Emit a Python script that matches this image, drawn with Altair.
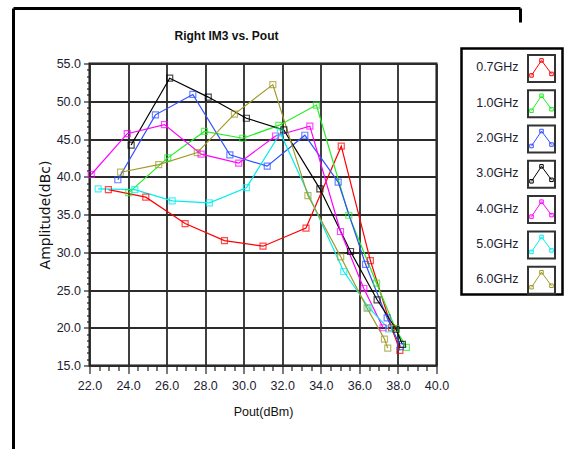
import altair as alt
import pandas as pd

series = ["0.7GHz", "1.0GHz", "2.0GHz", "3.0GHz", "4.0GHz", "5.0GHz", "6.0GHz"]
colors = ["#FF0000", "#22EE22", "#3050FF", "#000000", "#FF00FF", "#00EEEE", "#A09A28"]

pout_07 = [22.98, 24.92, 26.96, 29.0, 31.0, 33.23, 35.06, 36.57, 37.67, 38.1]
amp_07 = [38.3, 37.3, 33.8, 31.55, 30.8, 33.2, 44.05, 28.9, 20.0, 17.0]

pout_10 = [24.04, 26.06, 27.96, 29.95, 31.82, 33.77, 35.45, 36.89, 37.87, 38.44]
amp_10 = [37.9, 42.5, 46.0, 45.1, 46.8, 49.5, 34.9, 25.9, 19.9, 17.4]

pout_20 = [23.47, 25.42, 27.36, 29.28, 31.22, 33.17, 34.9, 36.32, 37.44, 38.13]
amp_20 = [39.6, 48.2, 50.9, 42.9, 41.4, 45.5, 39.3, 28.4, 21.3, 17.5]

pout_30 = [24.16, 26.16, 28.16, 30.14, 32.08, 33.95, 35.54, 36.92, 37.9, 38.23]
amp_30 = [44.2, 53.05, 50.55, 47.75, 46.2, 38.4, 30.1, 23.7, 19.8, 17.8]

pout_40 = [22.09, 23.96, 25.89, 27.79, 29.74, 31.65, 33.43, 35.02, 36.23, 37.23]
amp_40 = [40.3, 45.7, 46.9, 43.0, 41.8, 45.4, 46.7, 32.75, 25.2, 20.0]

pout_50 = [22.45, 24.35, 26.29, 28.22, 30.14, 31.9, 35.19, 36.49, 37.52]
amp_50 = [38.4, 38.3, 36.8, 36.55, 38.55, 45.8, 27.45, 22.65, 19.85]

pout_60 = [23.61, 25.59, 27.59, 29.52, 31.51, 33.33, 35.03, 36.4, 37.3, 37.47]
amp_60 = [40.6, 41.6, 43.2, 48.3, 52.2, 37.5, 29.4, 22.6, 18.5, 17.3]

all_pout = [pout_07, pout_10, pout_20, pout_30, pout_40, pout_50, pout_60]
all_amp = [amp_07, amp_10, amp_20, amp_30, amp_40, amp_50, amp_60]

rows = []
for s, xs, ys in zip(series, all_pout, all_amp):
    for i, (xv, yv) in enumerate(zip(xs, ys)):
        rows.append({"series": s, "pout": xv, "amp": yv, "idx": i})
df = pd.DataFrame(rows)

x_ticks = [22 + 0.5 * i for i in range(37)]
y_ticks = [round(15 + i * 5 / 6, 4) for i in range(49)]
x_major = "abs(datum.value % 2) < 0.001"
y_major = "abs(datum.value / 5 - round(datum.value / 5)) < 0.001"

FONT = "Liberation Sans"
LBL = "#1c1c30"

color_scale = alt.Scale(domain=series, range=colors)

x_enc = alt.X(
    "pout:Q",
    scale=alt.Scale(domain=[22, 40], nice=False, zero=False),
    axis=alt.Axis(
        values=x_ticks,
        labelExpr=f"{x_major} ? format(datum.value, '.1f') : ''",
        grid=True,
        gridOpacity={"condition": {"test": x_major, "value": 1}, "value": 0},
        gridColor="#2b2b2b",
        gridWidth=1.8,
        tickSize={"condition": {"test": x_major, "value": 8}, "value": 5},
        tickColor="#222222",
        tickWidth=1.2,
        domain=False,
        labelFont=FONT,
        labelFontSize=12.5,
        labelColor=LBL,
        labelPadding=6,
        labelOverlap=False,
        labelFlush=False,
        title="Pout(dBm)",
        titleFont=FONT,
        titleFontSize=12.5,
        titleFontWeight="normal",
        titleColor="#111111",
        titlePadding=13,
    ),
)

y_enc = alt.Y(
    "amp:Q",
    scale=alt.Scale(domain=[15, 55], nice=False, zero=False),
    axis=alt.Axis(
        values=y_ticks,
        labelExpr=f"{y_major} ? format(datum.value, '.1f') : ''",
        grid=True,
        gridOpacity={"condition": {"test": y_major, "value": 1}, "value": 0},
        gridColor="#2b2b2b",
        gridWidth=1.8,
        tickSize={"condition": {"test": y_major, "value": 6}, "value": 3},
        tickColor="#222222",
        tickWidth=1.2,
        domain=False,
        labelFont=FONT,
        labelFontSize=12.5,
        labelColor=LBL,
        labelPadding=3,
        labelOverlap=False,
        labelFlush=False,
        title="Amplitude(dBc)",
        titleFont="DejaVu Sans",
        titleFontSize=14,
        titleFontWeight="normal",
        titleColor="#111111",
        titlePadding=4,
    ),
)

base = alt.Chart(df).encode(
    x=x_enc,
    y=y_enc,
    color=alt.Color("series:N", scale=color_scale, legend=None),
    detail="series:N",
    order="idx:Q",
)

lines = base.mark_line(strokeWidth=1.2)
points = base.mark_point(shape="square", filled=False, size=36, strokeWidth=1.2)

plot_layer = alt.layer(lines, points)

# ---- decorations: outer frame and title (positions relative to plot's top-left) ----
one = pd.DataFrame({"k": [0]})
frame_left = alt.Chart(one).mark_rule(color="#000000", strokeWidth=3, clip=False).encode(
    x=alt.value(-76), y=alt.value(-55), y2=alt.value(386)
)
frame_top = alt.Chart(one).mark_rule(color="#000000", strokeWidth=3, clip=False).encode(
    x=alt.value(-76), x2=alt.value(431), y=alt.value(-55)
)
frame_corner = alt.Chart(one).mark_rule(color="#000000", strokeWidth=3, clip=False).encode(
    x=alt.value(431), y=alt.value(-55), y2=alt.value(-41)
)
title_txt = alt.Chart(one).mark_text(
    text="Right IM3 vs. Pout",
    font=FONT,
    fontSize=12,
    fontWeight="bold",
    color="#111111",
    align="center",
    baseline="alphabetic",
).encode(x=alt.value(137), y=alt.value(-24))

# ---- legend ----
leg_df = pd.DataFrame({"series": series})
icon_path = (
    "M-0.74,0.52L0,-0.59L0.74,0.41 "
    "M-0.87,0.39h0.26v0.26h-0.26z "
    "M-0.13,-0.72h0.26v0.26h-0.26z "
    "M0.61,0.28h0.26v0.26h-0.26z"
)
leg_y = alt.Y(
    "series:N",
    scale=alt.Scale(type="point", domain=series, range=[4.9, 216.7], padding=0),
    axis=None,
)
box = alt.Chart(one).mark_rect(fill="white", stroke="#000000", strokeWidth=2.5, clip=False).encode(
    x=alt.value(372), x2=alt.value(473), y=alt.value(-15), y2=alt.value(231)
)
labels = alt.Chart(leg_df).mark_text(
    align="left", baseline="middle", font=FONT, fontSize=12.5, color=LBL, dy=-1
).encode(x=alt.value(386.7), y=leg_y, text="series:N")
swatch = alt.Chart(leg_df).mark_point(
    shape="square", filled=False, size=729, stroke="#333333", strokeWidth=2, opacity=1
).encode(x=alt.value(452), y=leg_y)
icons = alt.Chart(leg_df).mark_point(
    shape=icon_path, filled=False, size=729, strokeWidth=1, opacity=1
).encode(
    x=alt.value(452),
    y=leg_y,
    color=alt.Color("series:N", scale=color_scale, legend=None),
)
legend_layer = alt.layer(box, labels, swatch, icons)

chart = (
    alt.layer(plot_layer, frame_left, frame_top, frame_corner, title_txt, legend_layer)
    .resolve_scale(y="independent")
    .properties(
        width=347,
        height=302,
        padding={"left": 11.5, "top": 6.5, "right": 0, "bottom": 0},
        view=alt.ViewBackground(stroke="#111111", strokeWidth=2),
    )
    .configure(background="white")
)

chart.save("out.html", embed_options={"renderer": "svg", "actions": False})
